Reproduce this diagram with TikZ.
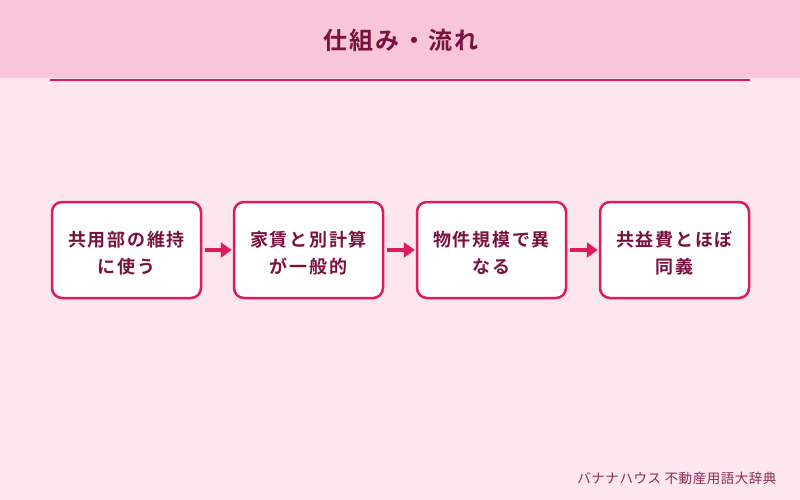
\documentclass[tikz,border=0pt]{standalone}
\usepackage{fontspec}
\newfontfamily\cjk[LetterSpace=4]{Noto Sans CJK JP}
\newfontfamily\cjkb[LetterSpace=10]{Noto Sans CJK JP Bold}
\usetikzlibrary{arrows.meta}
\definecolor{bgpink}{HTML}{FDE6EE}
\definecolor{headpink}{HTML}{F8C6D8}
\definecolor{accent}{HTML}{DF1A60}
\definecolor{darktext}{HTML}{7A1240}
\definecolor{foottext}{HTML}{8C2A55}
\tikzset{
  stepbox/.style={draw=accent, line width=2.5pt, fill=white, rounded corners=10pt,
    minimum width=149pt, minimum height=96pt, inner sep=0pt},
  steptext/.style={align=center, text=darktext, inner sep=0pt,
    font=\cjkb\fontsize{18pt}{27pt}\selectfont},
  flowarrow/.style={draw=accent, line width=4pt, -{Triangle[length=11pt,width=15pt]}},
}
\begin{document}
\begin{tikzpicture}[x=1pt,y=-1pt]
\useasboundingbox (0,0) rectangle (800,500);
\fill[bgpink] (0,0) rectangle (800,500);
\fill[headpink] (0,0) rectangle (800,78);
\draw[accent, line width=2pt] (50,80) -- (750,80);
\node[text=darktext, font=\cjkb\fontsize{24pt}{28pt}\selectfont] (title) at (401,40) {仕組み・流れ};
\node[stepbox] (s1) at (126.5,250) {};
\node[stepbox] (s2) at (308.5,250) {};
\node[stepbox] (s3) at (491.5,250) {};
\node[stepbox] (s4) at (674.5,250) {};
\node[steptext] (t1) at ([yshift=-3pt]s1.center) {共用部の維持\\に使う};
\node[steptext] (t2) at ([yshift=-3pt]s2.center) {家賃と別計算\\が一般的};
\node[steptext] (t3) at ([yshift=-3pt]s3.center) {物件規模で異\\なる};
\node[steptext] (t4) at ([yshift=-3pt]s4.center) {共益費とほぼ\\同義};
\draw[flowarrow] ([xshift=3pt]s1.east) -- ([xshift=-1pt]s2.west);
\draw[flowarrow] ([xshift=3pt]s2.east) -- ([xshift=-1pt]s3.west);
\draw[flowarrow] ([xshift=3pt]s3.east) -- ([xshift=-1pt]s4.west);
\node[anchor=east, text=foottext, font=\cjk\fontsize{13.5pt}{15pt}\selectfont] (foot) at (780,478) {バナナハウス 不動産用語大辞典};
\end{tikzpicture}
\end{document}
